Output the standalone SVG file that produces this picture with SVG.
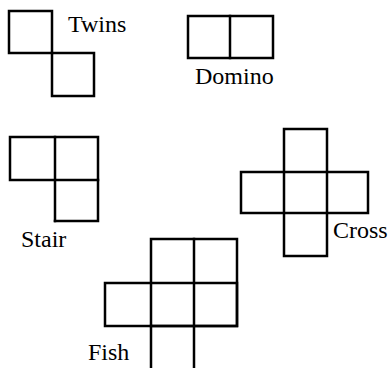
<svg xmlns="http://www.w3.org/2000/svg" width="392" height="368" viewBox="0 0 392 368">
<style>
.s{fill:none;stroke:#000;stroke-width:2.5;stroke-linejoin:miter;stroke-linecap:square}
.t{font-family:"Liberation Serif","Times New Roman",serif;font-size:24px;fill:#000}
</style>
<rect width="392" height="368" fill="#fff"/>
<g id="twins">
<rect class="s" x="9" y="11" width="43" height="42"/>
<rect class="s" x="52" y="53" width="42" height="43"/>
<text class="t" x="68" y="32">Twins</text>
</g>
<g id="domino">
<rect class="s" x="188" y="16" width="85" height="42"/>
<line class="s" x1="230" y1="16" x2="230" y2="58"/>
<text class="t" x="195" y="84">Domino</text>
</g>
<g id="stair">
<rect class="s" x="10" y="137" width="88" height="43"/>
<line class="s" x1="55" y1="137" x2="55" y2="221"/>
<polyline class="s" points="55,221 98,221 98,180"/>
<text class="t" x="21" y="247">Stair</text>
</g>
<g id="cross">
<rect class="s" x="284" y="129" width="43" height="127"/>
<rect class="s" x="241" y="172" width="127" height="41"/>
<text class="t" x="333" y="238">Cross</text>
</g>
<g id="fish">
<rect class="s" x="151" y="239" width="86" height="87"/>
<rect class="s" x="105" y="283" width="132" height="43"/>
<line class="s" x1="194" y1="239" x2="194" y2="370"/>
<line class="s" x1="151" y1="326" x2="151" y2="370"/>
<text class="t" x="88" y="360">Fish</text>
</g>
</svg>
